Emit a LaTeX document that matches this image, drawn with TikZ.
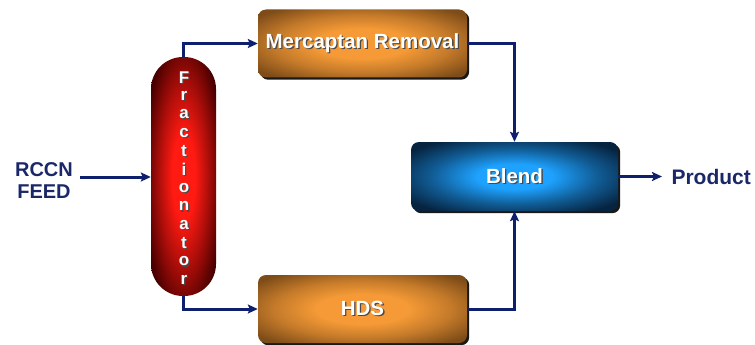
\documentclass[tikz,border=0pt]{standalone}
\usepackage{fontspec}
\setmainfont{Liberation Sans}
\usetikzlibrary{arrows.meta,shadows}

\definecolor{flowblue}{HTML}{0E1F6E}
\definecolor{labelblue}{HTML}{1B2868}
\definecolor{redC}{HTML}{FF1A12}
\definecolor{redE}{HTML}{4A0000}
\definecolor{orgC}{HTML}{F59A36}
\definecolor{orgE}{HTML}{7E4C18}
\definecolor{bluC}{HTML}{1EA2FF}
\definecolor{bluE}{HTML}{062440}
\definecolor{txtshadow}{HTML}{4A4A4A}

% glow shadings: bright centre fading to a dark rim (25bp = edge midpoints of the fill)
\pgfdeclareradialshading{glowred}{\pgfpoint{0bp}{0bp}}{%
  color(0bp)=(redC); color(9bp)=(redC); color(19bp)=(redC!55!redE); color(30bp)=(redE); color(50bp)=(redE)}
\pgfdeclareradialshading{gloworange}{\pgfpoint{0bp}{0bp}}{%
  color(0bp)=(orgC); color(11bp)=(orgC); color(21bp)=(orgC!60!orgE); color(32bp)=(orgE); color(50bp)=(orgE)}
\pgfdeclareradialshading{glowblue}{\pgfpoint{0bp}{0bp}}{%
  color(0bp)=(bluC); color(9bp)=(bluC); color(20bp)=(bluC!45!bluE); color(31bp)=(bluE); color(50bp)=(bluE)}

% white bold text with a small grey drop shadow
\newcommand\shtext[1]{\makebox[0pt][l]{\hspace{1.3pt}\raisebox{-1.3pt}{\textcolor{txtshadow}{#1}}}#1}

\tikzset{
  unit/.style={rounded corners=8pt, inner sep=0pt,
    drop shadow={shadow xshift=2.2pt, shadow yshift=-2.2pt, opacity=1, fill=black!90}},
  procbox/.style={unit, shade, shading=gloworange, minimum width=209pt, minimum height=68pt},
  blendbox/.style={unit, shade, shading=glowblue, minimum width=207pt, minimum height=69pt},
  column/.style={shade, shading=glowred, inner sep=0pt, rounded corners=32pt,
    minimum width=65pt, minimum height=239pt},
  boxtext/.style={text=white, font=\fontsize{20.5}{24}\selectfont\bfseries},
  coltext/.style={text=white, font=\fontsize{17}{18}\selectfont\bfseries, inner sep=0pt},
  sidetext/.style={text=labelblue, font=\fontsize{20}{22}\selectfont\bfseries, align=center},
  flow/.style={draw=flowblue, line width=3pt,
    -{Stealth[length=10pt, width=9pt, inset=2pt]}}
}

\begin{document}
\begin{tikzpicture}[x=1pt, y=-1pt]
\useasboundingbox (0,0) rectangle (755,345);

% process units
\node[column] (frac) at (183.5,176.5) {};
\node[procbox] (merc) at (362.5,43.5) {};
\node[procbox] (hds) at (362.5,309) {};
\node[blendbox] (blend) at (514.5,176.5) {};

\node[boxtext] (merclbl) at (merc.center) {\shtext{Mercaptan Removal}};
\node[boxtext] (hdslbl) at (hds.center) {\shtext{HDS}};
\node[boxtext] (blendlbl) at (blend.center) {\shtext{Blend}};

% column label, one letter per line
\foreach \ch [count=\i from 0] in {F,r,a,c,t,i,o,n,a,t,o,r}
  \node[coltext] (fl\i) at (184,{78+\i*18.4}) {\shtext{\ch}};

% feed and product labels
\node[sidetext] (feed) at (44,181) {RCCN\\FEED};
\node[sidetext, anchor=west, font=\fontsize{21}{22}\selectfont\bfseries] (prod) at (668,177) {Product};
\coordinate (feedstart) at (80,177);
\coordinate (prodtip) at (662,176.5);

% flow lines
\draw[flow] (feedstart) -- (frac.west |- feedstart);
\draw[flow] (frac.north) |- (merc.west);
\draw[flow] (frac.south) |- (hds.west);
\draw[flow] (merc.east) -| (blend.north);
\draw[flow] (hds.east) -| (blend.south);
\draw[flow] (blend.east) -- (prodtip);
\end{tikzpicture}
\end{document}
